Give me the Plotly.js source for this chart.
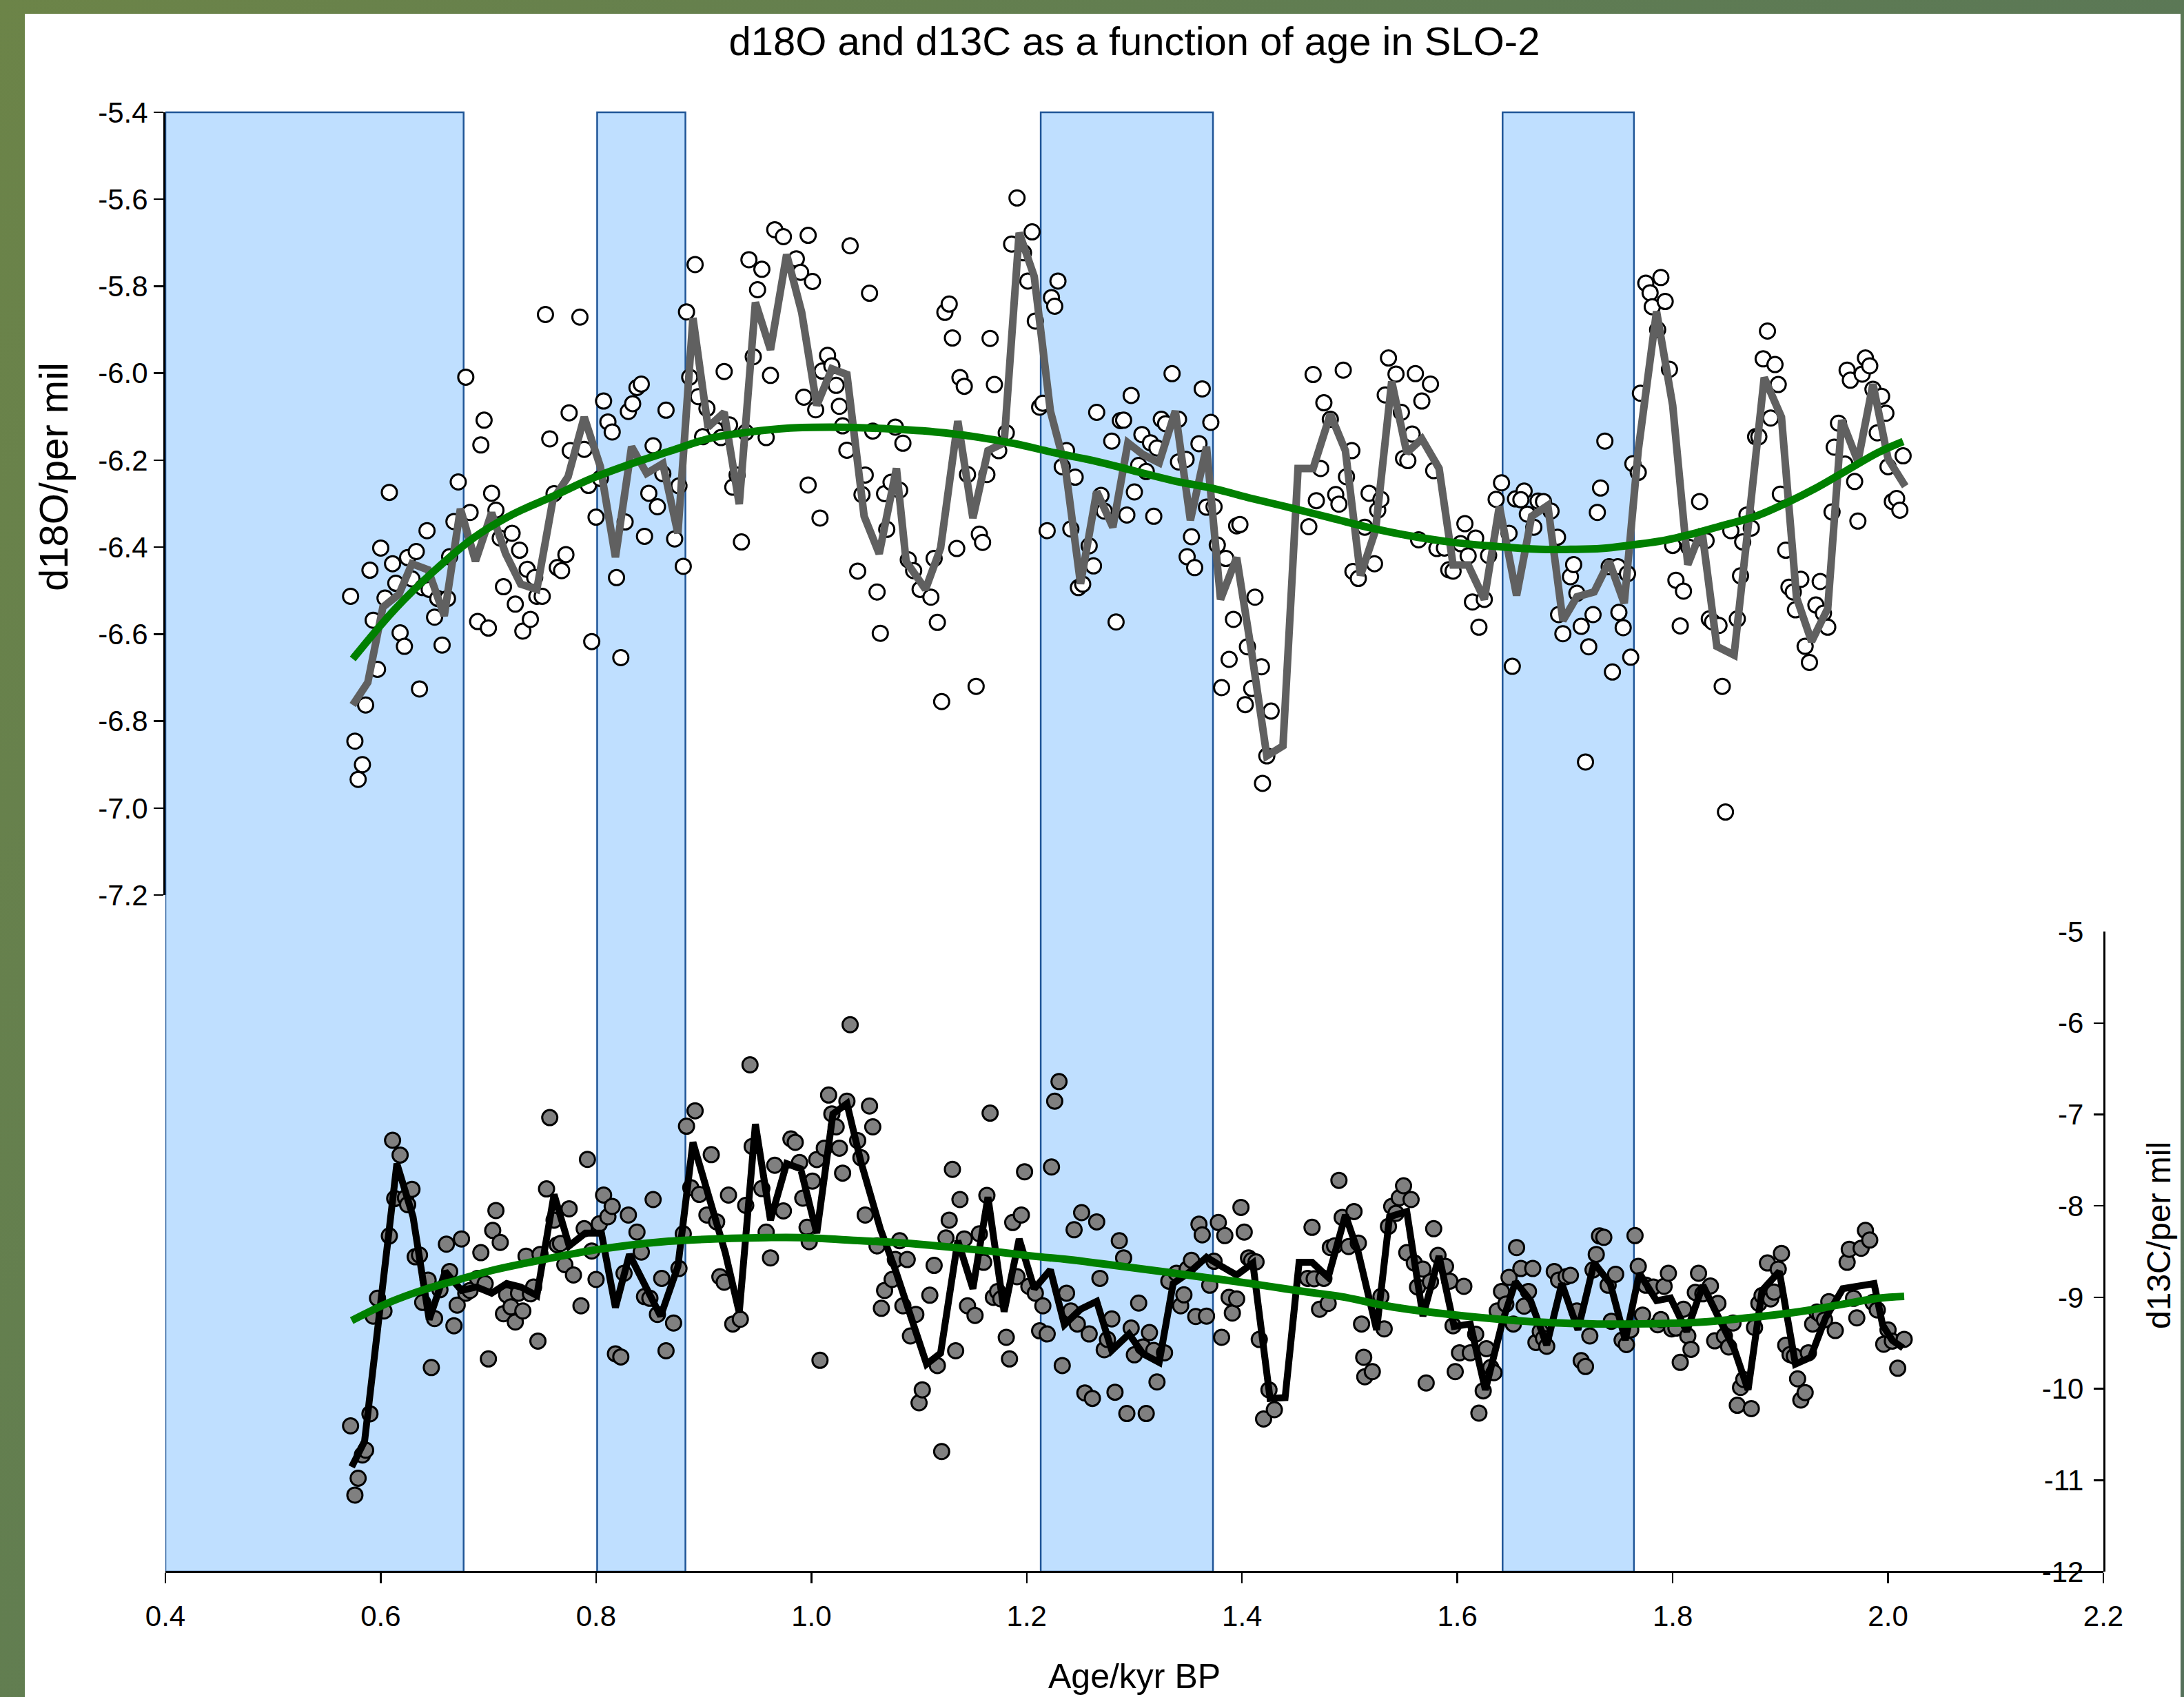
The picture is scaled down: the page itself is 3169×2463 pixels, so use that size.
<!DOCTYPE html>
<html><head><meta charset="utf-8">
<script src="https://cdn.plot.ly/plotly-3.0.1.min.js"></script>
<style>
html,body{margin:0;padding:0;width:3169px;height:2463px;overflow:hidden;}
body{background:linear-gradient(125deg,#6c8448 0%,#5f7c53 45%,#55715b 100%);}
#chart{position:absolute;left:36px;top:20px;width:3128px;height:2443px;background:#fff;}
</style></head><body><div id="chart"></div><script>
// ---- d18O samples ----
const ageO = [0.572,0.576,0.583,0.579,0.586,0.590,0.593,0.597,0.600,0.604,0.608,0.611,0.614,0.618,0.622,0.625,0.629,0.633,0.636,0.639,0.643,0.645,0.650,0.653,0.657,0.662,0.664,0.668,0.672,0.679,0.683,0.690,0.693,0.696,0.700,0.703,0.707,0.711,0.714,0.722,0.725,0.729,0.732,0.736,0.739,0.743,0.745,0.750,0.753,0.757,0.761,0.764,0.768,0.772,0.775,0.776,0.785,0.789,0.793,0.796,0.800,0.804,0.807,0.811,0.815,0.819,0.823,0.827,0.830,0.834,0.838,0.842,0.845,0.849,0.853,0.857,0.862,0.865,0.873,0.877,0.881,0.884,0.887,0.892,0.895,0.899,0.903,0.911,0.916,0.919,0.924,0.927,0.931,0.935,0.939,0.942,0.946,0.950,0.954,0.958,0.962,0.966,0.974,0.986,0.990,0.993,0.997,0.997,1.001,1.004,1.008,1.010,1.015,1.019,1.023,1.026,1.029,1.033,1.036,1.043,1.047,1.050,1.054,1.057,1.061,1.064,1.068,1.070,1.074,1.078,
1.085,1.082,1.090,1.095,1.101,1.111,1.114,1.117,1.121,1.124,1.128,1.131,1.135,1.138,1.142,1.145,1.153,1.156,1.159,1.163,1.166,1.170,1.174,1.181,1.186,1.191,1.197,1.201,1.205,1.208,1.212,1.215,1.219,1.223,1.226,1.229,1.233,1.237,1.241,1.245,1.248,1.252,1.258,1.262,1.265,1.269,1.272,1.279,1.283,1.287,1.290,1.293,1.297,1.300,1.304,1.307,1.311,1.315,1.318,1.321,1.325,1.329,1.335,1.341,1.341,1.348,1.349,1.353,1.356,1.360,1.363,1.367,1.371,1.374,1.377,1.381,1.385,1.388,1.392,1.395,1.398,1.403,1.405,1.409,1.412,1.418,1.423,1.419,1.427,1.462,1.466,1.469,1.473,1.476,1.482,1.487,1.490,1.494,1.497,1.502,1.503,1.508,1.514,1.518,1.523,1.526,1.529,1.533,1.536,1.543,1.548,1.550,1.554,1.558,1.561,1.564,1.567,1.575,1.578,1.581,1.588,1.592,1.596,1.603,1.607,1.610,1.614,1.617,1.620,1.625,1.629,1.636,1.641,1.648,1.651,1.654,
1.662,1.659,1.665,1.671,1.675,1.680,1.687,1.693,1.694,1.698,1.705,1.708,1.711,1.715,1.719,1.722,1.726,1.730,1.733,1.737,1.741,1.744,1.749,1.750,1.754,1.758,1.761,1.763,1.768,1.770,1.775,1.779,1.781,1.786,1.789,1.793,1.797,1.800,1.803,1.807,1.810,1.815,1.825,1.831,1.834,1.837,1.843,1.846,1.849,1.854,1.860,1.863,1.865,1.869,1.873,1.877,1.880,1.884,1.888,1.891,1.895,1.898,1.900,1.905,1.908,1.912,1.914,1.919,1.923,1.927,1.933,1.937,1.940,1.944,1.948,1.950,1.954,1.960,1.962,1.965,1.969,1.972,1.976,1.979,1.983,1.986,1.990,1.994,1.998,2.000,2.004,2.008,2.011,2.014];
const d18O = [-6.513,-6.846,-6.900,-6.934,-6.763,-6.453,-6.568,-6.681,-6.402,-6.517,-6.274,-6.438,-6.483,-6.597,-6.628,-6.424,-6.473,-6.410,-6.726,-6.493,-6.362,-6.497,-6.561,-6.518,-6.625,-6.518,-6.422,-6.341,-6.250,-6.009,-6.320,-6.571,-6.165,-6.108,-6.586,-6.276,-6.315,-6.379,-6.491,-6.368,-6.531,-6.407,-6.593,-6.451,-6.566,-6.470,-6.513,-6.513,-5.865,-6.151,-6.277,-6.447,-6.454,-6.417,-6.091,-6.178,-5.871,-6.175,-6.258,-6.617,-6.331,-6.242,-6.064,-6.112,-6.135,-6.470,-6.654,-6.342,-6.088,-6.070,-6.033,-6.025,-6.375,-6.276,-6.167,-6.307,-6.231,-6.085,-6.381,-6.259,-6.444,-5.859,-6.009,-5.750,-6.054,-6.146,-6.081,-6.130,-6.148,-5.996,-6.119,-6.262,-6.234,-6.388,-6.136,-5.739,-5.962,-5.808,-5.761,-6.148,-6.005,-5.670,-5.686,-5.737,-5.768,-6.055,-6.257,-5.683,-5.789,-6.084,-6.333,-5.995,-5.959,-5.983,-6.028,-6.076,-6.121,-6.177,-5.707,-6.455,-6.279,-6.234,-5.816,-6.133,-6.503,-6.598,-6.277,-6.359,-6.251,-6.124,
-6.161,-6.269,-6.429,-6.454,-6.497,-6.515,-6.426,-6.573,-6.755,-5.860,-5.841,-5.919,-6.403,-6.010,-6.030,-6.233,-6.720,-6.370,-6.389,-6.233,-5.920,-6.026,-6.178,-6.137,-5.703,-5.597,-5.723,-5.788,-5.675,-5.880,-6.078,-6.069,-6.362,-5.826,-5.846,-5.788,-6.215,-6.178,-6.358,-6.239,-6.493,-6.485,-6.397,-6.443,-6.090,-6.281,-6.317,-6.156,-6.572,-6.109,-6.108,-6.326,-6.051,-6.273,-6.212,-6.141,-6.226,-6.160,-6.329,-6.172,-6.106,-6.116,-6.001,-6.106,-6.204,-6.198,-6.422,-6.376,-6.447,-6.162,-6.036,-6.308,-6.113,-6.307,-6.395,-6.723,-6.426,-6.658,-6.566,-6.351,-6.348,-6.762,-6.629,-6.725,-6.515,-6.675,-6.880,-6.943,-6.777,-6.353,-6.003,-6.293,-6.219,-6.068,-6.106,-6.279,-6.301,-5.993,-6.238,-6.178,-6.456,-6.472,-6.354,-6.276,-6.438,-6.315,-6.290,-6.050,-5.965,-6.002,-6.090,-6.196,-6.201,-6.140,-6.001,-6.383,-6.064,-6.025,-6.224,-6.403,-6.402,-6.452,-6.455,-6.392,-6.346,-6.420,-6.526,-6.379,-6.584,-6.520,-6.419,-6.290,-6.252,-6.368,-6.674,-6.289,
-6.271,-6.291,-6.324,-6.354,-6.294,-6.295,-6.317,-6.377,-6.555,-6.599,-6.468,-6.440,-6.506,-6.582,-6.894,-6.629,-6.555,-6.320,-6.264,-6.156,-6.445,-6.687,-6.445,-6.550,-6.585,-6.461,-6.653,-6.208,-6.228,-6.046,-5.793,-5.815,-5.847,-5.900,-5.780,-5.835,-5.991,-6.396,-6.476,-6.581,-6.501,-6.400,-6.295,-6.385,-6.565,-6.572,-6.580,-6.720,-7.009,-6.362,-6.565,-6.466,-6.388,-6.326,-6.356,-6.146,-6.146,-5.967,-5.903,-6.103,-5.980,-6.026,-6.278,-6.407,-6.492,-6.503,-6.544,-6.474,-6.628,-6.665,-6.533,-6.479,-6.552,-6.584,-6.319,-6.170,-6.115,-6.209,-5.993,-6.016,-6.249,-6.340,-6.002,-5.965,-5.983,-6.037,-6.137,-6.053,-6.092,-6.215,-6.295,-6.288,-6.315,-6.190];

// ---- d18O running mean ----
const ageOMean = [0.574,0.588,0.602,0.617,0.629,0.644,0.659,0.674,0.688,0.703,0.716,0.730,0.745,0.760,0.774,0.789,0.804,0.818,0.833,0.847,0.862,0.876,0.890,0.904,0.919,0.933,0.948,0.962,0.977,0.991,1.005,1.019,1.033,1.049,1.063,1.079,1.088,1.106,1.120,1.136,1.150,1.164,1.179,1.193,1.207,1.222,1.236,1.250,1.265,1.280,1.294,1.308,1.323,1.338,1.352,1.367,1.380,1.395,1.409,1.423,1.438,1.452,1.466,1.482,1.496,1.510,1.524,1.539,1.553,1.567,1.583,1.596,1.610,1.625,1.639,1.655,1.669,1.684,1.698,1.711,1.727,1.741,1.755,1.768,1.785,1.800,1.814,1.827,1.841,1.857,1.872,1.885,1.901,1.915,1.929,1.944,1.957,1.972,1.986,2.000,2.016];
const d18OMean = [-6.763,-6.711,-6.538,-6.508,-6.438,-6.452,-6.558,-6.312,-6.432,-6.321,-6.415,-6.485,-6.497,-6.290,-6.238,-6.101,-6.215,-6.423,-6.169,-6.230,-6.208,-6.368,-5.873,-6.124,-6.090,-6.301,-5.837,-5.946,-5.727,-5.860,-6.074,-5.990,-6.003,-6.329,-6.415,-6.219,-6.433,-6.497,-6.402,-6.110,-6.333,-6.178,-6.160,-5.677,-5.778,-6.087,-6.219,-6.484,-6.272,-6.354,-6.160,-6.187,-6.206,-6.087,-6.338,-6.169,-6.520,-6.424,-6.643,-6.880,-6.857,-6.219,-6.219,-6.094,-6.178,-6.465,-6.361,-6.019,-6.183,-6.151,-6.219,-6.441,-6.441,-6.520,-6.306,-6.511,-6.329,-6.304,-6.569,-6.514,-6.503,-6.433,-6.529,-6.177,-5.858,-6.074,-6.440,-6.359,-6.628,-6.648,-6.309,-6.010,-6.101,-6.516,-6.617,-6.541,-6.108,-6.203,-6.025,-6.197,-6.260];

// ---- d18O polynomial trend ----
const ageOFit = [0.574,0.613,0.649,0.686,0.723,0.760,0.796,0.833,0.870,0.907,0.943,0.980,1.017,1.054,1.115,1.152,1.189,1.226,1.262,1.299,1.336,1.373,1.409,1.446,1.483,1.520,1.556,1.593,1.630,1.677,1.705,1.734,1.762,1.791,1.819,1.848,1.877,1.905,1.934,1.962,1.991,2.014];
const d18OFit = [-6.657,-6.543,-6.456,-6.379,-6.324,-6.283,-6.242,-6.208,-6.178,-6.149,-6.135,-6.126,-6.124,-6.126,-6.135,-6.146,-6.162,-6.183,-6.201,-6.224,-6.247,-6.265,-6.288,-6.310,-6.333,-6.356,-6.374,-6.388,-6.397,-6.405,-6.405,-6.403,-6.395,-6.385,-6.369,-6.349,-6.329,-6.299,-6.263,-6.223,-6.182,-6.157];

// ---- d13C samples ----
const ageC = [0.572,0.576,0.579,0.583,0.586,0.590,0.593,0.597,0.603,0.608,0.611,0.613,0.618,0.623,0.625,0.629,0.632,0.636,0.639,0.644,0.647,0.650,0.655,0.661,0.664,0.668,0.671,0.675,0.679,0.683,0.690,0.693,0.697,0.700,0.704,0.707,0.711,0.714,0.717,0.721,0.725,0.728,0.732,0.735,0.739,0.742,0.746,0.748,0.754,0.757,0.761,0.764,0.767,0.771,0.775,0.779,0.786,0.789,0.792,0.796,0.800,0.803,0.807,0.811,0.815,0.818,0.823,0.826,0.830,0.838,0.842,0.845,0.850,0.853,0.857,0.861,0.865,0.872,0.877,0.881,0.884,0.888,0.892,0.896,0.903,0.907,0.912,0.915,0.919,0.923,0.927,0.934,0.939,0.943,0.945,0.954,0.958,0.962,0.966,0.974,0.981,0.985,0.989,0.992,0.996,0.998,1.001,1.005,1.008,1.012,
1.016,1.019,1.023,1.026,1.029,1.033,1.036,1.043,1.046,1.050,1.054,1.057,1.061,1.065,1.068,1.075,1.078,1.082,1.085,1.089,1.092,1.097,1.100,1.103,1.110,1.114,1.117,1.121,1.125,1.128,1.131,1.134,1.138,1.142,1.145,1.152,1.156,1.160,1.163,1.166,1.169,1.173,1.176,1.181,1.184,1.187,1.191,1.195,1.198,1.202,1.208,1.212,1.215,1.219,1.223,1.226,1.230,1.233,1.237,1.241,1.244,1.247,1.251,1.254,1.258,1.261,1.265,1.268,1.272,1.275,1.279,1.282,1.286,1.290,1.293,1.297,1.300,1.304,1.308,1.311,1.314,1.318,1.321,1.328,1.332,1.339,1.343,1.346,1.349,1.353,1.357,1.360,1.363,1.367,1.370,1.374,1.378,1.381,1.384,1.388,1.391,1.395,1.399,1.402,1.406,1.409,1.413,1.416,1.420,1.425,1.430,1.461,1.465,1.467,1.472,1.476,1.480,1.482,1.486,1.490,1.493,1.499,1.504,1.508,1.511,1.513,1.514,
1.521,1.529,1.532,1.536,1.539,1.543,1.546,1.550,1.557,1.553,1.560,1.563,1.568,1.571,1.575,1.578,1.582,1.589,1.593,1.596,1.598,1.602,1.606,1.612,1.617,1.620,1.624,1.627,1.631,1.634,1.637,1.641,1.645,1.648,1.652,1.655,1.659,1.662,1.666,1.670,1.673,1.677,1.680,1.683,1.690,1.694,1.701,1.705,1.711,1.715,1.719,1.723,1.726,1.729,1.732,1.736,1.740,1.743,1.747,1.753,1.757,1.761,1.765,1.768,1.772,1.775,1.782,1.786,1.789,1.792,1.796,1.799,1.803,1.807,1.810,1.814,1.817,1.821,1.824,1.828,1.835,1.839,1.842,1.848,1.852,1.856,1.860,1.863,1.866,1.873,1.876,1.880,1.883,1.888,1.891,1.894,1.898,1.901,1.905,1.909,1.913,1.916,1.919,1.923,1.926,1.930,1.934,1.937,1.941,1.945,1.951,1.962,1.964,1.968,1.971,1.975,1.979,1.983,1.986,1.990,1.996,2.000,2.004,2.009,2.015];
const d13C = [-10.406,-11.163,-10.979,-10.724,-10.672,-10.274,-9.206,-9.011,-9.150,-8.329,-7.283,-7.920,-7.444,-7.912,-7.987,-7.819,-8.557,-8.538,-9.056,-8.812,-9.768,-9.232,-8.917,-8.419,-8.718,-9.311,-9.086,-8.362,-8.955,-8.925,-8.793,-8.512,-8.850,-9.674,-8.269,-8.051,-8.400,-9.180,-8.973,-9.105,-9.270,-8.955,-9.150,-8.550,-8.962,-8.887,-9.479,-8.531,-7.815,-7.035,-8.156,-8.426,-8.411,-8.643,-8.032,-8.756,-9.093,-8.250,-7.492,-8.494,-8.805,-8.197,-7.882,-8.119,-8.006,-9.618,-9.652,-8.737,-8.100,-8.287,-8.505,-8.992,-9.011,-7.931,-9.187,-8.793,-9.585,-9.281,-8.685,-8.306,-7.129,-7.800,-6.960,-7.875,-8.100,-7.440,-8.175,-8.775,-8.835,-7.882,-9.292,-9.240,-7.995,-6.458,-7.350,-7.811,-8.287,-8.569,-7.556,-8.055,-7.268,-7.305,-7.526,-7.916,-8.235,-8.392,-7.729,-7.493,-9.689,-7.369,
-6.788,-6.994,-7.136,-7.369,-7.642,-6.855,-6.019,-7.286,-7.474,-8.100,-6.908,-7.136,-8.437,-9.120,-8.925,-8.805,-8.587,-8.381,-9.093,-8.587,-9.423,-9.187,-10.154,-10.012,-8.977,-8.651,-9.746,-10.687,-8.351,-8.156,-7.601,-9.585,-7.931,-8.362,-9.093,-9.198,-8.306,-8.617,-7.886,-6.986,-9.000,-8.936,-9.018,-9.438,-9.674,-8.182,-8.775,-8.100,-7.627,-8.880,-8.955,-9.367,-9.093,-9.401,-7.575,-6.855,-6.641,-9.746,-8.955,-9.150,-8.261,-9.292,-8.074,-10.046,-9.401,-10.106,-8.175,-8.793,-9.573,-9.461,-9.236,-10.038,-8.381,-8.569,-10.271,-9.337,-9.629,-9.063,-9.543,-10.271,-9.386,-9.581,-9.926,-9.607,-8.823,-8.737,-9.093,-8.973,-8.692,-8.595,-9.210,-8.201,-8.317,-9.206,-8.868,-8.606,-8.182,-9.438,-8.325,-9.000,-9.172,-9.018,-8.017,-8.287,-8.569,-8.598,-8.613,-9.461,-10.331,-10.012,-10.229,-8.793,-8.235,-8.797,-9.131,-8.793,-9.067,-8.456,-8.437,-7.721,-8.126,-8.445,-8.062,-8.407,-9.292,-9.656,-9.869,
-9.813,-8.992,-9.345,-8.224,-8.006,-8.081,-7.912,-7.781,-7.931,-8.512,-8.625,-8.887,-8.692,-9.937,-8.831,-8.250,-8.542,-8.662,-8.823,-9.311,-9.813,-9.607,-8.880,-9.607,-9.404,-10.267,-10.023,-9.562,-9.768,-9.824,-9.150,-8.936,-9.075,-8.782,-9.292,-8.456,-8.685,-9.097,-8.936,-8.685,-9.494,-9.374,-9.449,-9.536,-8.718,-8.812,-8.775,-8.760,-9.150,-9.693,-9.757,-9.423,-8.700,-8.531,-8.329,-8.344,-8.868,-9.262,-8.748,-9.468,-9.517,-9.356,-8.325,-8.662,-9.195,-8.868,-8.887,-9.300,-9.243,-8.880,-8.737,-9.345,-9.337,-9.712,-9.131,-9.423,-9.569,-8.947,-8.737,-8.962,-8.876,-9.476,-9.067,-9.423,-9.543,-9.281,-10.181,-9.986,-9.899,-10.218,-9.330,-9.067,-8.981,-8.625,-9.018,-8.943,-8.692,-8.520,-9.524,-9.626,-9.644,-9.892,-10.124,-10.042,-9.607,-9.292,-9.161,-9.187,-9.247,-9.048,-9.363,-8.617,-8.475,-9.011,-9.225,-8.464,-8.269,-8.374,-9.056,-9.138,-9.513,-9.356,-9.479,-9.776,-9.460];

// ---- d13C running mean ----
const ageCMean = [0.573,0.585,0.615,0.630,0.645,0.660,0.675,0.689,0.703,0.717,0.730,0.745,0.761,0.775,0.790,0.805,0.818,0.831,0.860,0.876,0.890,0.905,0.920,0.933,0.948,0.962,0.977,0.990,1.005,1.020,1.033,1.046,1.064,1.078,1.093,1.107,1.120,1.136,1.150,1.164,1.179,1.193,1.207,1.222,1.235,1.250,1.265,1.279,1.295,1.308,1.323,1.336,1.352,1.367,1.381,1.395,1.410,1.426,1.440,1.453,1.465,1.480,1.496,1.508,1.525,1.537,1.553,1.568,1.583,1.597,1.612,1.626,1.642,1.654,1.668,1.683,1.697,1.712,1.727,1.742,1.756,1.769,1.785,1.798,1.813,1.828,1.842,1.857,1.870,1.883,1.899,1.914,1.928,1.942,1.958,1.972,1.987,1.995,2.004,2.014];
const d13CMean = [-10.855,-10.574,-7.538,-8.119,-9.243,-8.718,-8.925,-8.887,-8.955,-8.850,-8.887,-8.981,-7.875,-8.437,-8.299,-8.299,-9.112,-8.531,-9.206,-8.662,-7.305,-7.942,-8.512,-9.168,-7.106,-8.156,-7.538,-7.594,-8.299,-6.994,-6.881,-7.519,-8.250,-8.700,-9.225,-9.731,-9.611,-8.381,-8.906,-7.905,-9.157,-8.362,-8.906,-8.700,-9.300,-9.131,-9.045,-9.581,-9.401,-9.618,-9.712,-8.850,-8.718,-8.561,-8.662,-8.756,-8.625,-10.106,-10.098,-8.617,-8.617,-8.782,-8.100,-8.512,-9.356,-8.119,-8.062,-9.206,-8.550,-9.318,-9.292,-10.012,-9.262,-8.831,-9.037,-9.524,-8.850,-9.356,-8.625,-8.850,-9.468,-8.737,-9.037,-9.007,-9.374,-8.868,-9.206,-9.562,-10.012,-8.925,-8.718,-9.731,-9.656,-9.225,-8.906,-8.880,-8.850,-9.303,-9.472,-9.555];

// ---- d13C polynomial trend ----
const ageCFit = [0.573,0.608,0.640,0.671,0.703,0.735,0.767,0.799,0.831,0.862,0.894,0.926,0.958,0.990,1.046,1.078,1.110,1.142,1.174,1.206,1.238,1.269,1.301,1.333,1.365,1.397,1.429,1.461,1.492,1.534,1.566,1.599,1.632,1.664,1.697,1.730,1.762,1.795,1.828,1.860,1.893,1.926,1.958,1.991,2.015];
const d13CFit = [-9.255,-9.056,-8.917,-8.812,-8.707,-8.625,-8.550,-8.482,-8.430,-8.392,-8.370,-8.355,-8.347,-8.347,-8.381,-8.400,-8.430,-8.467,-8.505,-8.550,-8.587,-8.632,-8.681,-8.730,-8.782,-8.831,-8.887,-8.943,-8.992,-9.093,-9.150,-9.195,-9.232,-9.262,-9.281,-9.292,-9.292,-9.285,-9.270,-9.236,-9.195,-9.142,-9.075,-9.011,-8.990];

// ---- shaded intervals (age, kyr BP) ----
const bandStart = [0.400,0.801,1.213,1.642];
const bandEnd   = [0.677,0.883,1.373,1.764];

// ---- tick labels ----
const xTickVals = [0.4,0.6,0.8,1.0,1.2,1.4,1.6,1.8,2.0,2.2];
const xTickText = ['0.4','0.6','0.8','1.0','1.2','1.4','1.6','1.8','2.0','2.2'];
const yOTickVals = [-5.4,-5.6,-5.8,-6.0,-6.2,-6.4,-6.6,-6.8,-7.0,-7.2];
const yOTickText = ['-5.4','-5.6','-5.8','-6.0','-6.2','-6.4','-6.6','-6.8','-7.0','-7.2'];
const yCTickVals = [-5,-6,-7,-8,-9,-10,-11,-12];
const yCTickText = ['-5','-6','-7','-8','-9','-10','-11','-12'];

const W = 3128, H = 2443;
const FONT = 'Arial, "Liberation Sans", Helvetica, sans-serif';

const traces = [
  {x: ageO, y: d18O, type:'scatter', mode:'markers', yaxis:'y', cliponaxis:false,
   marker:{size:22, color:'#ffffff', line:{color:'#000000', width:3}}},
  {x: ageC, y: d13C, type:'scatter', mode:'markers', yaxis:'y2', cliponaxis:false,
   marker:{size:22, color:'#808080', line:{color:'#000000', width:3}}},
  {x: ageOMean, y: d18OMean, type:'scatter', mode:'lines', yaxis:'y',
   line:{color:'#606060', width:11}},
  {x: ageCMean, y: d13CMean, type:'scatter', mode:'lines', yaxis:'y2',
   line:{color:'#000000', width:10}},
  {x: ageOFit, y: d18OFit, type:'scatter', mode:'lines', yaxis:'y',
   line:{color:'#008000', width:11, shape:'spline', smoothing:1}},
  {x: ageCFit, y: d13CFit, type:'scatter', mode:'lines', yaxis:'y2',
   line:{color:'#008000', width:11, shape:'spline', smoothing:1}}
];

const shapes = bandStart.map((s,i)=>({
  type:'rect', xref:'x', yref:'paper', x0:s, x1:bandEnd[i], y0:0, y1:1,
  fillcolor:'#bfdfff', line:{color:'#1f5597', width:2.5}, layer:'below'
}));

const layout = {
  width:W, height:H,
  margin:{l:204, r:112, t:143, b:182, pad:0},
  paper_bgcolor:'#ffffff', plot_bgcolor:'#ffffff',
  showlegend:false,
  font:{family:FONT, color:'#000000', size:42},
  title:{text:'d18O and d13C as a function of age in SLO-2', font:{family:FONT, size:58, color:'#000'},
         x:0.5, xref:'paper', xanchor:'center', y:1-40/H, yref:'container', yanchor:'middle'},
  xaxis:{range:[0.4,2.2], anchor:'free', position:0, showline:true, linecolor:'#000', linewidth:2.5,
         ticks:'outside', ticklen:15, tickwidth:2.5, tickcolor:'#000', ticklabeloverflow:'allow',
         ticklabelstandoff:12,
         tickvals:xTickVals, ticktext:xTickText, showgrid:false, zeroline:false,
         tickfont:{family:FONT, size:42, color:'#000'}},
  yaxis:{domain:[0.4636,1], range:[-7.2,-5.4], anchor:'x', side:'left', showline:true,
         linecolor:'#000', linewidth:3, ticks:'outside', ticklen:14, tickwidth:2.5, tickcolor:'#000',
         ticklabeloverflow:'allow',
         tickvals:yOTickVals, ticktext:yOTickText, showgrid:false, zeroline:false,
         tickfont:{family:FONT, size:42, color:'#000'}},
  yaxis2:{domain:[0,0.4386], range:[-12,-5], anchor:'x', side:'right', showline:true,
         linecolor:'#000', linewidth:2.5, ticks:'inside', ticklen:14, tickwidth:2.5, tickcolor:'#000',
         ticklabelposition:'inside', ticklabeloverflow:'allow', ticklabelstandoff:20,
         tickvals:yCTickVals, ticktext:yCTickText,
         showgrid:false, zeroline:false, tickfont:{family:FONT, size:42, color:'#000'}},
  shapes:shapes,
  annotations:[
    {text:'Age/kyr BP', xref:'paper', yref:'paper', x:0.5, y:0, xanchor:'center', yanchor:'top',
     yshift:-122, showarrow:false, font:{family:FONT, size:50, color:'#000'}},
    {text:'d18O/per mil', xref:'paper', yref:'paper', x:0, y:0.7502, xanchor:'center', yanchor:'middle',
     xshift:-163, textangle:-90, showarrow:false, font:{family:FONT, size:58, color:'#000'}},
    {text:'d13C/per mil', xref:'paper', yref:'paper', x:1, y:0.2304, xanchor:'center', yanchor:'middle',
     xshift:80, textangle:-90, showarrow:false, font:{family:FONT, size:48, color:'#000'}}
  ]
};

Plotly.newPlot('chart', traces, layout, {displayModeBar:false, staticPlot:true});
</script></body></html>
